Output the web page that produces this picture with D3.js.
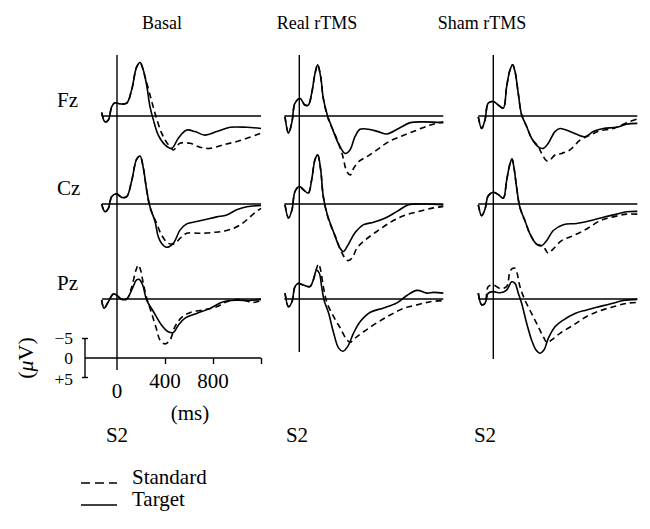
<!DOCTYPE html>
<html>
<head>
<meta charset="utf-8">
<script src="https://cdn.jsdelivr.net/npm/d3@7"></script>
<style>
  body { margin: 0; background: #fff; }
  svg text { font-family: "Liberation Serif", "DejaVu Serif", serif; fill: #000; }
</style>
</head>
<body>
<div id="chart"></div>
<script>
// conditions (columns) and electrodes (rows)
const conditions = ["Basal", "Real rTMS", "Sham rTMS"];
const electrodes = ["Fz", "Cz", "Pz"];
const timeTicks = [0, 400, 800];
const scaleBarTicks = [-5, 0, 5];
const scaleBarLabels = ["\u22125", "0", "+5"];

// ERP traces, [time ms, amplitude uV] (negative plotted upward)
const basalFzTarget = [[-128,-0.9],[-100,1.5],[-72,1.0],[-44,-2.4],[-17,-3.4],[25,-3.1],[81,-3.3],[122,-6.7],[164,-12.6],[192,-13.7],[219,-11.8],[247,-7.9],[275,-2.4],[303,1.0],[344,4.9],[400,7.4],[456,8.3],[511,5.7],[581,3.6],[650,4.0],[733,4.9],[831,4.0],[942,2.9],[1081,2.9],[1200,3.2]];
const basalFzStandard = [[-128,-0.9],[-100,1.5],[-72,1.0],[-44,-2.4],[-17,-3.4],[25,-3.1],[81,-3.3],[122,-6.7],[164,-12.6],[192,-13.7],[233,-10.1],[275,-5.4],[317,-0.7],[372,4.4],[428,7.4],[469,8.7],[525,7.0],[608,7.0],[692,8.0],[775,8.3],[886,7.4],[1025,6.3],[1200,4.4]];
const basalCzTarget = [[-128,0],[-100,2.0],[-72,1.1],[-44,-1.9],[-3,-2.6],[39,-1.7],[81,-1.9],[122,-5.9],[164,-11.5],[192,-12.3],[219,-9.3],[247,-3.6],[275,0.7],[317,4.5],[344,8.4],[372,10.1],[414,11.1],[469,10.1],[525,6.7],[581,5.1],[664,4.5],[747,3.9],[831,3.3],[914,2.8],[997,1.5],[1081,0.7],[1200,0.4]];
const basalCzStandard = [[-128,0],[-100,2.0],[-72,1.1],[-44,-1.9],[-3,-2.6],[39,-1.7],[81,-1.9],[122,-5.9],[164,-11.5],[192,-12.3],[219,-9.3],[247,-3.6],[275,0.9],[331,5.0],[372,8.0],[428,10.1],[483,10.1],[525,8.8],[581,7.5],[692,7.5],[803,7.3],[914,6.8],[1025,5.4],[1150,2.2],[1200,1.1]];
const basalPzTarget = [[-128,0.3],[-108,2.4],[-72,0.7],[-31,-1.3],[-3,-1.0],[39,0.1],[81,0],[122,-2.3],[164,-4.9],[186,-5.0],[214,-3.6],[247,0.3],[303,3.2],[372,6.7],[428,8.4],[469,8.6],[511,6.7],[567,4.9],[664,3.7],[775,2.4],[886,0.7],[997,0.3],[1108,0.4],[1200,0.1]];
const basalPzStandard = [[-128,0.3],[-108,2.4],[-72,0.7],[-31,-1.3],[-3,-1.0],[39,0.1],[81,0],[122,-3.0],[158,-7.4],[178,-8.7],[197,-7.4],[219,-4.0],[247,-0.3],[289,3.7],[331,7.9],[358,10.5],[400,11.5],[442,10.5],[483,7.1],[539,4.7],[608,3.5],[719,2.8],[831,2.0],[914,0.7],[1025,0.1],[1136,0.9],[1200,0.3]];

const realFzTarget = [[-119,0.2],[-90,4.4],[-61,1.5],[-36,-3.3],[6,-4.5],[47,-2.8],[75,-2.8],[103,-5.8],[131,-10.9],[153,-13.1],[178,-10.1],[200,-4.5],[233,-0.3],[269,2.7],[325,7.0],[381,9.6],[422,8.7],[464,5.3],[506,3.4],[575,3.4],[658,4.0],[731,4.6],[828,3.2],[925,1.7],[1036,1.5],[1200,1.7]];
const realFzStandard = [[-119,0.2],[-90,4.4],[-61,1.5],[-36,-3.3],[6,-4.5],[47,-2.8],[75,-2.8],[103,-5.8],[131,-10.9],[153,-13.1],[178,-10.1],[200,-4.5],[244,1.0],[300,4.9],[356,9.6],[397,14.3],[425,15.1],[453,13.4],[494,11.7],[564,10.4],[647,8.7],[744,6.6],[856,5.1],[981,3.6],[1092,2.3],[1200,1.5]];
const realCzTarget = [[-119,0.2],[-90,3.6],[-61,1.5],[-36,-3.2],[0,-4.5],[33,-3.7],[75,-2.8],[103,-6.2],[131,-11.4],[153,-12.6],[178,-8.8],[200,-1.9],[233,2.7],[283,7.0],[339,11.3],[367,12.2],[408,10.4],[464,7.4],[536,5.3],[619,4.7],[717,3.6],[814,1.9],[911,0.2],[1036,0],[1200,0.2]];
const realCzStandard = [[-119,0.2],[-90,3.6],[-61,1.5],[-36,-3.2],[0,-4.5],[33,-3.7],[75,-2.8],[103,-6.2],[131,-11.4],[153,-12.6],[178,-8.8],[200,-1.9],[244,4.0],[300,8.3],[356,12.6],[403,14.5],[439,13.9],[481,11.3],[550,9.2],[647,7.0],[758,4.7],[869,3.0],[994,1.9],[1119,1.0],[1200,0.6]];
const realPzTarget = [[-119,-1.5],[-90,2.0],[-61,0.7],[-36,-3.2],[-8,-4.0],[33,-3.6],[89,-3.2],[117,-4.9],[144,-7.4],[167,-6.6],[186,-3.2],[206,0.3],[244,3.6],[286,8.7],[328,12.6],[364,13.4],[403,12.2],[453,8.7],[508,5.8],[592,3.4],[703,2.3],[814,1.0],[897,-0.9],[981,-2.2],[1064,-1.5],[1119,-1.7],[1200,-1.5]];
const realPzStandard = [[-119,-1.5],[-90,2.0],[-61,0.7],[-36,-3.2],[-8,-4.0],[33,-3.6],[89,-3.2],[117,-4.9],[139,-7.4],[161,-9.0],[178,-7.4],[200,-3.2],[231,1.0],[286,4.5],[342,7.5],[397,10.5],[425,11.1],[467,10.0],[536,8.4],[647,6.1],[758,4.1],[869,2.4],[981,1.5],[1092,0.7],[1200,0.4]];

const shamFzTarget = [[-125,0.2],[-97,3.2],[-69,1.0],[-42,-3.3],[0,-3.7],[42,-2.8],[83,-2.0],[111,-7.5],[139,-11.8],[161,-13.1],[181,-11.4],[208,-5.8],[236,-0.3],[278,2.7],[319,5.7],[375,7.9],[417,8.3],[458,7.0],[514,4.0],[556,3.2],[625,3.8],[694,4.7],[764,5.3],[833,4.0],[917,3.2],[1028,2.9],[1111,2.1],[1200,1.9]];
const shamFzStandard = [[-125,0.2],[-97,3.2],[-69,1.0],[-42,-3.3],[0,-3.7],[42,-2.8],[83,-2.0],[111,-7.5],[139,-11.8],[161,-13.1],[181,-11.4],[208,-5.8],[236,-0.3],[278,2.7],[319,5.7],[375,7.9],[403,9.6],[444,11.5],[472,11.3],[514,10.0],[569,9.6],[639,8.7],[722,6.2],[806,4.9],[889,3.8],[1000,3.2],[1111,1.7],[1200,0.8]];
const shamCzTarget = [[-125,0.2],[-97,3.0],[-69,1.3],[-42,-2.1],[0,-3.0],[42,-2.4],[83,-1.5],[111,-6.0],[139,-10.3],[156,-11.5],[172,-9.4],[194,-4.3],[222,0.9],[264,4.3],[306,7.7],[361,10.3],[403,10.7],[444,9.4],[500,6.8],[583,5.3],[694,5.0],[806,4.3],[917,3.4],[1028,2.6],[1111,2.0],[1200,1.9]];
const shamCzStandard = [[-125,0.2],[-97,3.0],[-69,1.3],[-42,-2.1],[0,-3.0],[42,-2.4],[83,-1.5],[111,-6.0],[139,-10.3],[156,-11.5],[172,-9.4],[194,-4.3],[222,0.9],[264,4.3],[306,7.7],[361,10.3],[403,10.7],[431,11.5],[458,12.6],[500,11.5],[569,9.4],[667,8.1],[778,6.4],[889,4.3],[1000,3.3],[1111,2.6],[1200,2.6]];
const shamPzTarget = [[-125,-1.5],[-97,1.5],[-69,1.1],[-42,-1.5],[0,-1.9],[56,-1.6],[111,-2.3],[153,-4.4],[181,-4.0],[208,-1.5],[236,1.1],[278,6.2],[319,10.5],[356,13.1],[389,13.9],[422,13.1],[458,10.1],[514,7.1],[583,5.4],[681,3.7],[778,2.8],[861,2.1],[972,1.3],[1083,0.4],[1200,0.1]];
const shamPzStandard = [[-125,-1.5],[-97,1.5],[-69,1.1],[-42,-3.2],[0,-3.6],[56,-2.7],[111,-3.2],[144,-7.4],[181,-7.9],[200,-6.4],[222,-3.2],[264,0.3],[319,3.7],[375,7.1],[417,9.7],[450,11.2],[486,10.5],[556,8.8],[667,6.7],[778,4.5],[889,3.0],[1000,2.0],[1111,1.1],[1200,0.9]];

const targetTraces = [
  [basalFzTarget, basalCzTarget, basalPzTarget],
  [realFzTarget, realCzTarget, realPzTarget],
  [shamFzTarget, shamCzTarget, shamPzTarget]
];
const standardTraces = [
  [basalFzStandard, basalCzStandard, basalPzStandard],
  [realFzStandard, realCzStandard, realPzStandard],
  [shamFzStandard, shamCzStandard, shamPzStandard]
];

// layout
const W = 650, H = 529;
const colZero = [117, 299.3, 493.3];      // pixel position of t = 0 per column
const colTitleX = [162, 317, 482];
const colAxisBottom = [370, 352, 359];
const colS2X = [117, 297, 485];
const rowBase = [116, 204, 299];          // pixel position of 0 uV per row
const pxPerMs = 0.12, pxPerUv = 3.9;
const tStart = -125, tEnd = 1200;
const labelSize = "21px";

const svg = d3.select("#chart").append("svg")
  .attr("width", W).attr("height", H);

const xScale = c => d3.scaleLinear().domain([0, 1200])
  .range([colZero[c], colZero[c] + 1200 * pxPerMs]);
const yScale = r => d3.scaleLinear().domain([-5, 5])
  .range([rowBase[r] - 5 * pxPerUv, rowBase[r] + 5 * pxPerUv]);

// column titles
svg.selectAll(".title").data(conditions).enter().append("text")
  .attr("class", "title")
  .attr("x", (d, i) => colTitleX[i]).attr("y", 29)
  .attr("text-anchor", "middle")
  .style("font-size", "18px")
  .text(d => d);

// row labels
svg.selectAll(".rowlab").data(electrodes).enter().append("text")
  .attr("class", "rowlab")
  .attr("x", 57).attr("y", (d, i) => rowBase[i] - 9)
  .style("font-size", labelSize)
  .text(d => d);

conditions.forEach((cond, c) => {
  const x = xScale(c);
  const g = svg.append("g");

  // vertical axis at stimulus onset
  g.append("line")
    .attr("x1", x(0)).attr("x2", x(0))
    .attr("y1", 55).attr("y2", colAxisBottom[c])
    .attr("stroke", "#000").attr("stroke-width", 1.4);

  electrodes.forEach((el, r) => {
    const y = yScale(r);
    g.append("line")
      .attr("x1", x(tStart)).attr("x2", x(tEnd))
      .attr("y1", y(0)).attr("y2", y(0))
      .attr("stroke", "#000").attr("stroke-width", 1.4);

    const line = d3.line()
      .x(d => x(d[0])).y(d => y(d[1]))
      .curve(d3.curveCatmullRom.alpha(0.5));

    g.append("path")
      .datum(standardTraces[c][r])
      .attr("d", line)
      .attr("fill", "none").attr("stroke", "#000")
      .attr("stroke-width", 1.6)
      .attr("stroke-dasharray", "6,4");

    g.append("path")
      .datum(targetTraces[c][r])
      .attr("d", line)
      .attr("fill", "none").attr("stroke", "#000")
      .attr("stroke-width", 1.6);
  });

  svg.append("text")
    .attr("x", colS2X[c]).attr("y", 442)
    .attr("text-anchor", "middle")
    .style("font-size", labelSize)
    .text("S2");
});

// time axis + amplitude scale bar under the Basal column
const axisY = 358;
const xb = xScale(0);
const xAxis = d3.axisBottom(xb).tickValues([400, 800, 1200]).tickSize(6).tickFormat("");
const axG = svg.append("g").attr("transform", `translate(0,${axisY})`).call(xAxis);
axG.select(".domain").attr("d", `M85,0H${xb(1200)}`).attr("stroke-width", 1.4);
axG.selectAll(".tick line").attr("stroke-width", 1.4);

svg.selectAll(".tlab").data(timeTicks).enter().append("text")
  .attr("class", "tlab")
  .attr("x", d => xb(d))
  .attr("y", d => d === 0 ? 398 : 388)
  .attr("text-anchor", "middle")
  .style("font-size", labelSize)
  .text(d => d);

svg.append("text")
  .attr("x", 190).attr("y", 420)
  .attr("text-anchor", "middle")
  .style("font-size", labelSize)
  .text("(ms)");

const yb = d3.scaleLinear().domain([-5, 5])
  .range([axisY - 5 * pxPerUv, axisY + 5 * pxPerUv]);
const sb = svg.append("g");
sb.append("line")
  .attr("x1", 85).attr("x2", 85)
  .attr("y1", yb(-5)).attr("y2", yb(5))
  .attr("stroke", "#000").attr("stroke-width", 1.4);
sb.selectAll(".cap").data([-5, 5]).enter().append("line")
  .attr("x1", 82).attr("x2", 88)
  .attr("y1", d => yb(d)).attr("y2", d => yb(d))
  .attr("stroke", "#000").attr("stroke-width", 1.4);
sb.selectAll(".sblab").data(scaleBarTicks).enter().append("text")
  .attr("x", 73).attr("y", d => yb(d) + 6 + Math.sign(d))
  .attr("text-anchor", "end")
  .style("font-size", "17.5px")
  .text((d, i) => scaleBarLabels[i]);

const uvLab = svg.append("text")
  .attr("transform", "translate(33,358) rotate(-90)")
  .attr("text-anchor", "middle")
  .style("font-size", "22px");
uvLab.append("tspan").text("(");
uvLab.append("tspan").style("font-style", "italic").text("\u03bc");
uvLab.append("tspan").text("V)");

// legend
const legendItems = [
  { name: "Standard", dash: "9,5" },
  { name: "Target", dash: null }
];
const lg = svg.selectAll(".legend").data(legendItems).enter().append("g")
  .attr("transform", (d, i) => `translate(81,${483 + i * 22})`);
lg.append("line")
  .attr("x1", 0).attr("x2", 36)
  .attr("stroke", "#000").attr("stroke-width", 1.4)
  .attr("stroke-dasharray", d => d.dash);
lg.append("text")
  .attr("x", 51).attr("y", 1)
  .style("font-size", labelSize)
  .text(d => d.name);
</script>
</body>
</html>
